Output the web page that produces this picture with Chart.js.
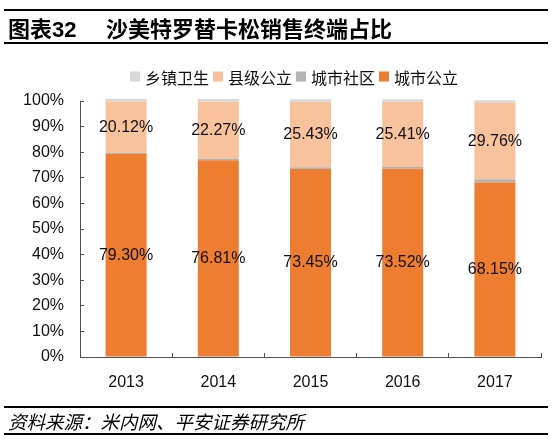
<!DOCTYPE html>
<html>
<head>
<meta charset="utf-8">
<script src="https://cdn.jsdelivr.net/npm/chart.js@4.4.1/dist/chart.umd.min.js"></script>
<style>
  html, body { margin: 0; padding: 0; background: #fff; }
  #wrap { position: relative; width: 554px; height: 441px; overflow: hidden; }
  #c { position: absolute; left: 0; top: 0; }
  .rule { position: absolute; left: 4px; width: 544px; height: 2px; background: #000; }
  #title { position: absolute; left: 8px; top: 12px; height: 30px; line-height: 30px;
           font-family: "Noto Sans CJK SC", sans-serif; font-weight: bold; font-size: 22px; color: #000; white-space: nowrap; }
  #title .num { font-family: "Liberation Sans", Arial, sans-serif; font-weight: bold; }
  #title .t2 { position: absolute; left: 98px; top: 0; }
  #source { position: absolute; left: 8px; top: 408px; height: 26px; line-height: 26px;
            font-family: "Noto Sans CJK SC", sans-serif; font-style: italic; font-size: 18.5px; color: #000; white-space: nowrap; }
</style>
</head>
<body>
<div id="wrap">
  <canvas id="c" width="554" height="441"></canvas>
  <div class="rule" style="top:9px"></div>
  <div id="title">图表<span class="num">32</span><span class="t2">沙美特罗替卡松销售终端占比</span></div>
  <div class="rule" style="top:42px"></div>
  <div class="rule" style="top:406px"></div>
  <div id="source">资料来源：米内网、平安证券研究所</div>
  <div class="rule" style="top:433px"></div>
</div>
<script>
const categories = ['2013', '2014', '2015', '2016', '2017'];
const cityPublic = [79.30, 76.81, 73.45, 73.52, 68.15];
const cityCommunity = [0.4, 0.6, 0.7, 0.7, 1.3];
const countyPublic = [20.12, 22.27, 25.43, 25.41, 29.76];
const townHealth = [1.1, 1.1, 1.1, 1.1, 1.1];
const yTicks = [0, 10, 20, 30, 40, 50, 60, 70, 80, 90, 100];
const labelledSeries = ['城市公立', '县级公立'];

const axisColor = '#505050';
const numFont = '"Liberation Sans", Arial, sans-serif';
const cjkFont = '"Noto Sans CJK SC", sans-serif';

const valueLabels = {
  id: 'valueLabels',
  afterDatasetsDraw(chart) {
    const ctx = chart.ctx;
    ctx.save();
    ctx.font = '16px ' + numFont;
    ctx.fillStyle = '#111';
    ctx.textAlign = 'center';
    ctx.textBaseline = 'middle';
    chart.data.datasets.forEach((ds, di) => {
      if (!labelledSeries.includes(ds.label)) return;
      const meta = chart.getDatasetMeta(di);
      meta.data.forEach((bar, i) => {
        const p = bar.getProps(['x', 'y', 'base'], true);
        ctx.fillText(ds.data[i].toFixed(2) + '%', p.x, (p.y + p.base) / 2);
      });
    });
    ctx.restore();
  }
};

const customLegend = {
  id: 'customLegend',
  afterDraw(chart) {
    const ctx = chart.ctx;
    ctx.save();
    ctx.font = '16px ' + cjkFont;
    ctx.textBaseline = 'middle';
    const items = chart.data.datasets.slice().reverse();
    const box = 10, gapBox = 5, gapItem = 4;
    let x = 130;
    const cy = 76.5;
    items.forEach(ds => {
      ctx.fillStyle = ds.backgroundColor;
      ctx.fillRect(x, cy - box / 2, box, box);
      x += box + gapBox;
      ctx.fillStyle = '#111';
      ctx.textAlign = 'left';
      ctx.fillText(ds.label, x, cy + 1);
      x += ctx.measureText(ds.label).width + gapItem;
    });
    ctx.restore();
  }
};

new Chart(document.getElementById('c'), {
  type: 'bar',
  data: {
    labels: categories,
    datasets: [
      { label: '城市公立', data: cityPublic, backgroundColor: '#ED7D31' },
      { label: '城市社区', data: cityCommunity, backgroundColor: '#B4B4B4' },
      { label: '县级公立', data: countyPublic, backgroundColor: '#F8C39C' },
      { label: '乡镇卫生', data: townHealth, backgroundColor: '#D9D9D9' }
    ]
  },
  options: {
    responsive: false,
    animation: false,
    layout: { padding: { top: 101, right: 13, left: 0, bottom: 0 } },
    datasets: { bar: { barPercentage: 1, categoryPercentage: 0.445, borderWidth: 0, clip: false } },
    plugins: { legend: { display: false }, tooltip: { enabled: false } },
    scales: {
      x: {
        stacked: true,
        afterFit(s) { s.height = 84; },
        grid: { offset: true, drawOnChartArea: false, drawTicks: true, tickLength: -4, color: axisColor },
        border: { display: true, color: axisColor, width: 1 },
        ticks: { color: '#111', font: { family: numFont, size: 16 }, padding: 20 }
      },
      y: {
        stacked: true,
        min: 0,
        max: 100,
        afterFit(s) { s.width = 80; },
        afterBuildTicks(s) { s.ticks = yTicks.map(v => ({ value: v })); },
        grid: { drawOnChartArea: false, drawTicks: true, tickLength: -4, color: axisColor },
        border: { display: true, color: axisColor, width: 1 },
        ticks: { color: '#111', font: { family: numFont, size: 16 }, padding: 20, callback: v => v + '%' }
      }
    }
  },
  plugins: [valueLabels, customLegend]
});
</script>
</body>
</html>
